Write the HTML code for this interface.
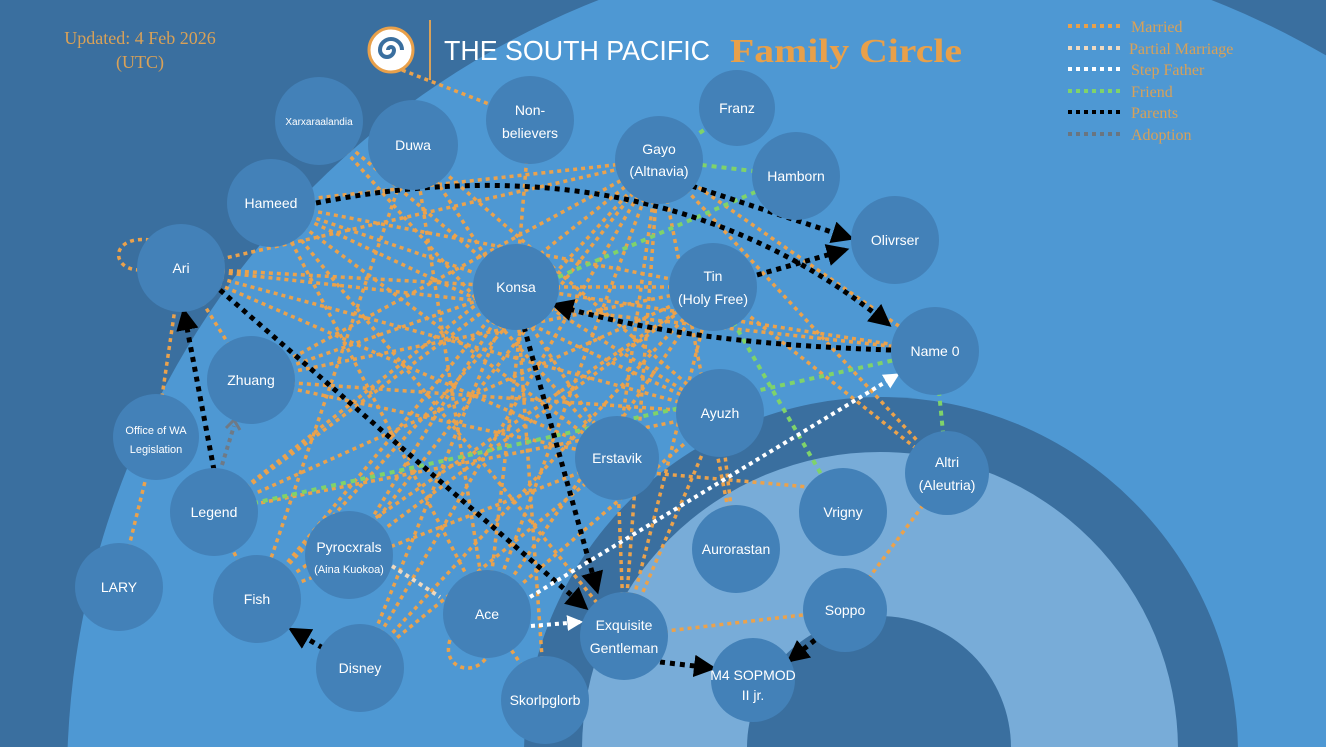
<!DOCTYPE html>
<html><head><meta charset="utf-8"><style>
html,body{margin:0;padding:0;width:1326px;height:747px;overflow:hidden;}
body{background:#3a6f9f;}
svg{display:block;position:absolute;left:0;top:0}
.n{fill:#4381b8}
.t{fill:#fff;font-family:"Liberation Sans Narrow","Liberation Sans",sans-serif;font-size:14px;text-anchor:middle}
.o{stroke:#eba24c;stroke-width:3.5;stroke-dasharray:4 4;fill:none}
.k{stroke:#000;stroke-width:5;stroke-dasharray:5 5;fill:none}
.w{stroke:#fff;stroke-width:4;stroke-dasharray:4 4;fill:none}
.g{stroke:#7fd36a;stroke-width:4;stroke-dasharray:5 5;fill:none}
.lg{fill:#d9a157;font-family:"Liberation Serif",serif;font-size:16px}
</style></head><body>
<svg width="1326" height="747" viewBox="0 0 1326 747" xmlns="http://www.w3.org/2000/svg">
<defs>
<marker id="ka" viewBox="0 0 10 10" refX="8" refY="5" markerWidth="4.5" markerHeight="4.5" orient="auto"><path d="M0,0L10,5L0,10z" fill="#000"/></marker>
<marker id="wa" viewBox="0 0 10 10" refX="8" refY="5" markerWidth="4" markerHeight="4" orient="auto"><path d="M0,0L10,5L0,10z" fill="#fff"/></marker>
</defs>
<rect width="1326" height="747" fill="#3a6f9f"/>
<circle cx="905" cy="780" r="838" fill="#4e98d3"/>
<circle cx="881" cy="754" r="357" fill="#3a6f9f"/>
<circle cx="880" cy="750" r="298" fill="#78acd8"/>
<circle cx="879" cy="748" r="132" fill="#3a6f9f"/>

<!-- header -->
<text x="140" y="44" class="lg" style="font-size:18px" text-anchor="middle">Updated: 4 Feb 2026</text>
<text x="140" y="68" class="lg" style="font-size:18px" text-anchor="middle">(UTC)</text>
<circle cx="391" cy="50" r="22" fill="#fff" stroke="#e8a04a" stroke-width="3"/>
<path d="M391,50 m-3,0 a3,3 0 1,1 6,0 a7,7 0 1,1 -14,0 a11,11 0 1,1 22,0" stroke="#3a6f9f" stroke-width="4" fill="none"/>
<line x1="430" y1="20" x2="430" y2="80" stroke="#d9a157" stroke-width="2"/>
<text x="444" y="60" fill="#fff" font-family="Liberation Sans Narrow,Liberation Sans,sans-serif" font-size="28" textLength="266" lengthAdjust="spacingAndGlyphs">THE SOUTH PACIFIC</text>
<text x="730" y="62" fill="#e8a04a" font-family="Liberation Serif,serif" font-weight="bold" font-size="34" textLength="232" lengthAdjust="spacingAndGlyphs">Family Circle</text>

<!-- legend -->
<g stroke-width="4" stroke-dasharray="4 4">
<line x1="1068" y1="26" x2="1122" y2="26" stroke="#e8a04a"/>
<line x1="1068" y1="48" x2="1122" y2="48" stroke="#efd9bf"/>
<line x1="1068" y1="69" x2="1122" y2="69" stroke="#fff"/>
<line x1="1068" y1="91" x2="1122" y2="91" stroke="#7fd36a"/>
<line x1="1068" y1="112" x2="1122" y2="112" stroke="#000"/>
<line x1="1068" y1="134" x2="1122" y2="134" stroke="#6a7580"/>
</g>
<text x="1131" y="32" class="lg">Married</text>
<text x="1129" y="54" class="lg">Partial Marriage</text>
<text x="1131" y="75" class="lg">Step Father</text>
<text x="1131" y="97" class="lg">Friend</text>
<text x="1131" y="118" class="lg">Parents</text>
<text x="1131" y="140" class="lg">Adoption</text>

<!-- orange married lines -->
<g class="o">
<path d="M402,70L530,120"/>
<path d="M271,203L659,160"/><path d="M271,203L516,287"/><path d="M271,203L713,287"/><path d="M271,203L617,458"/><path d="M271,203L720,413"/>
<path d="M181,268L516,287"/><path d="M181,268L659,160"/><path d="M181,268L720,413"/><path d="M181,268L935,351"/><path d="M181,268L251,380"/><path d="M181,268L617,458"/>
<path d="M251,380L659,160"/><path d="M251,380L713,287"/><path d="M251,380L720,413"/><path d="M251,380L617,458"/><path d="M251,380L516,287"/>
<path d="M214,512L516,287"/><path d="M214,512L659,160"/><path d="M214,512L720,413"/>
<path d="M257,599L516,287"/><path d="M257,599L659,160"/><path d="M257,599L617,458"/><path d="M257,599L214,512"/><path d="M257,599L713,287"/>
<path d="M349,555L516,287"/><path d="M349,555L659,160"/><path d="M349,555L713,287"/>
<path d="M360,668L516,287"/><path d="M360,668L713,287"/><path d="M360,668L659,160"/><path d="M360,668L617,458"/>
<path d="M487,614L525,287"/><path d="M487,614L659,160"/><path d="M487,614L713,287"/><path d="M487,614L413,145"/><path d="M487,614L271,203"/><path d="M487,614L720,413"/>
<path d="M624,636L659,160"/><path d="M624,636L713,287"/><path d="M624,636L720,413"/><path d="M624,636L845,610"/><path d="M624,636L617,458"/>
<path d="M617,458L659,160"/><path d="M617,458L413,145"/><path d="M319,121L617,458"/><path d="M413,145L257,599"/>
<path d="M530,120L516,287"/>
<path d="M659,160L935,351"/><path d="M659,160L947,473"/><path d="M947,473L845,610"/>
<path d="M935,351L516,287"/><path d="M156,437L181,268"/><path d="M119,587L156,437"/>
<path d="M545,700L487,614"/><path d="M545,700L516,287"/><path d="M736,549L720,413"/><path d="M736,549L659,160"/>
<path d="M617,470L843,490"/><path d="M413,145L720,413"/><path d="M319,121L516,287"/><path d="M271,203L624,636"/>
<path d="M516,287L720,413"/><path d="M516,287L713,287"/><path d="M713,287L947,473"/><path d="M214,512L713,287"/>
<path d="M150,240C110,235 110,270 140,270"/><path d="M450,640C440,670 480,680 490,650"/>
</g>

<!-- green friend -->
<g class="g">
<path d="M737,108L659,160"/><path d="M796,176L659,160"/><path d="M540,285L760,190"/>
<path d="M214,512L935,351"/><path d="M713,287L843,512"/><path d="M935,351L947,473"/>
</g>

<!-- black parents -->
<g class="k">
<path d="M316,203C480,170 700,170 888,324" marker-end="url(#ka)"/>
<path d="M692,186L850,238" marker-end="url(#ka)"/>
<path d="M757,275L845,250" marker-end="url(#ka)"/>
<path d="M891,350C740,345 640,330 555,305" marker-end="url(#ka)"/>
<path d="M220,290L585,607" marker-end="url(#ka)"/>
<path d="M524,327L597,590" marker-end="url(#ka)"/>
<path d="M214,470L184,312" marker-end="url(#ka)"/>
<path d="M660,662L712,668" marker-end="url(#ka)"/>
<path d="M815,640L790,660" marker-end="url(#ka)"/>
<path d="M323,648L292,630" marker-end="url(#ka)"/>
</g>
<!-- white step father -->
<g class="w">
<path d="M530,597L897,375" marker-end="url(#wa)"/>
<path d="M531,626L580,622" marker-end="url(#wa)"/>
</g>
<path d="M392,566L440,597" stroke="#efd9bf" stroke-width="4" stroke-dasharray="4 4" fill="none"/>
<path d="M222,465L234,426" stroke="#6f7a86" stroke-width="4" stroke-dasharray="4 4" fill="none"/>
<path d="M226,428L234,420L240,430" stroke="#6f7a86" stroke-width="3" fill="none"/>

<!-- nodes -->
<g class="n">
<circle cx="319" cy="121" r="44"/><circle cx="413" cy="145" r="45"/><circle cx="530" cy="120" r="44"/>
<circle cx="737" cy="108" r="38"/><circle cx="659" cy="160" r="44"/><circle cx="796" cy="176" r="44"/>
<circle cx="271" cy="203" r="44"/><circle cx="895" cy="240" r="44"/><circle cx="181" cy="268" r="44"/>
<circle cx="516" cy="287" r="43"/><circle cx="713" cy="287" r="44"/><circle cx="935" cy="351" r="44"/>
<circle cx="251" cy="380" r="44"/><circle cx="156" cy="437" r="43"/><circle cx="720" cy="413" r="44"/>
<circle cx="617" cy="458" r="42"/><circle cx="947" cy="473" r="42"/><circle cx="214" cy="512" r="44"/>
<circle cx="843" cy="512" r="44"/><circle cx="736" cy="549" r="44"/><circle cx="349" cy="555" r="44"/>
<circle cx="119" cy="587" r="44"/><circle cx="257" cy="599" r="44"/><circle cx="845" cy="610" r="42"/>
<circle cx="487" cy="614" r="44"/><circle cx="624" cy="636" r="44"/><circle cx="360" cy="668" r="44"/>
<circle cx="753" cy="680" r="42"/><circle cx="545" cy="700" r="44"/>
</g>
<g class="t">
<text x="319" y="125" style="font-size:10px">Xarxaraalandia</text>
<text x="413" y="150">Duwa</text>
<text x="530" y="115">Non-</text><text x="530" y="138">believers</text>
<text x="737" y="113">Franz</text>
<text x="659" y="154">Gayo</text><text x="659" y="176">(Altnavia)</text>
<text x="796" y="181">Hamborn</text>
<text x="271" y="208">Hameed</text>
<text x="895" y="245">Olivrser</text>
<text x="181" y="273">Ari</text>
<text x="516" y="292">Konsa</text>
<text x="713" y="281">Tin</text><text x="713" y="304">(Holy Free)</text>
<text x="935" y="356">Name 0</text>
<text x="251" y="385">Zhuang</text>
<text x="156" y="434" style="font-size:11px">Office of WA</text><text x="156" y="453" style="font-size:11px">Legislation</text>
<text x="720" y="418">Ayuzh</text>
<text x="617" y="463">Erstavik</text>
<text x="947" y="467">Altri</text><text x="947" y="490">(Aleutria)</text>
<text x="214" y="517">Legend</text>
<text x="843" y="517">Vrigny</text>
<text x="736" y="554">Aurorastan</text>
<text x="349" y="552">Pyrocxrals</text><text x="349" y="573" style="font-size:11px">(Aina Kuokoa)</text>
<text x="119" y="592">LARY</text>
<text x="257" y="604">Fish</text>
<text x="845" y="615">Soppo</text>
<text x="487" y="619">Ace</text>
<text x="624" y="630">Exquisite</text><text x="624" y="653">Gentleman</text>
<text x="360" y="673">Disney</text>
<text x="753" y="680">M4 SOPMOD</text><text x="753" y="700">II jr.</text>
<text x="545" y="705">Skorlpglorb</text>
</g>
</svg>
</body></html>
